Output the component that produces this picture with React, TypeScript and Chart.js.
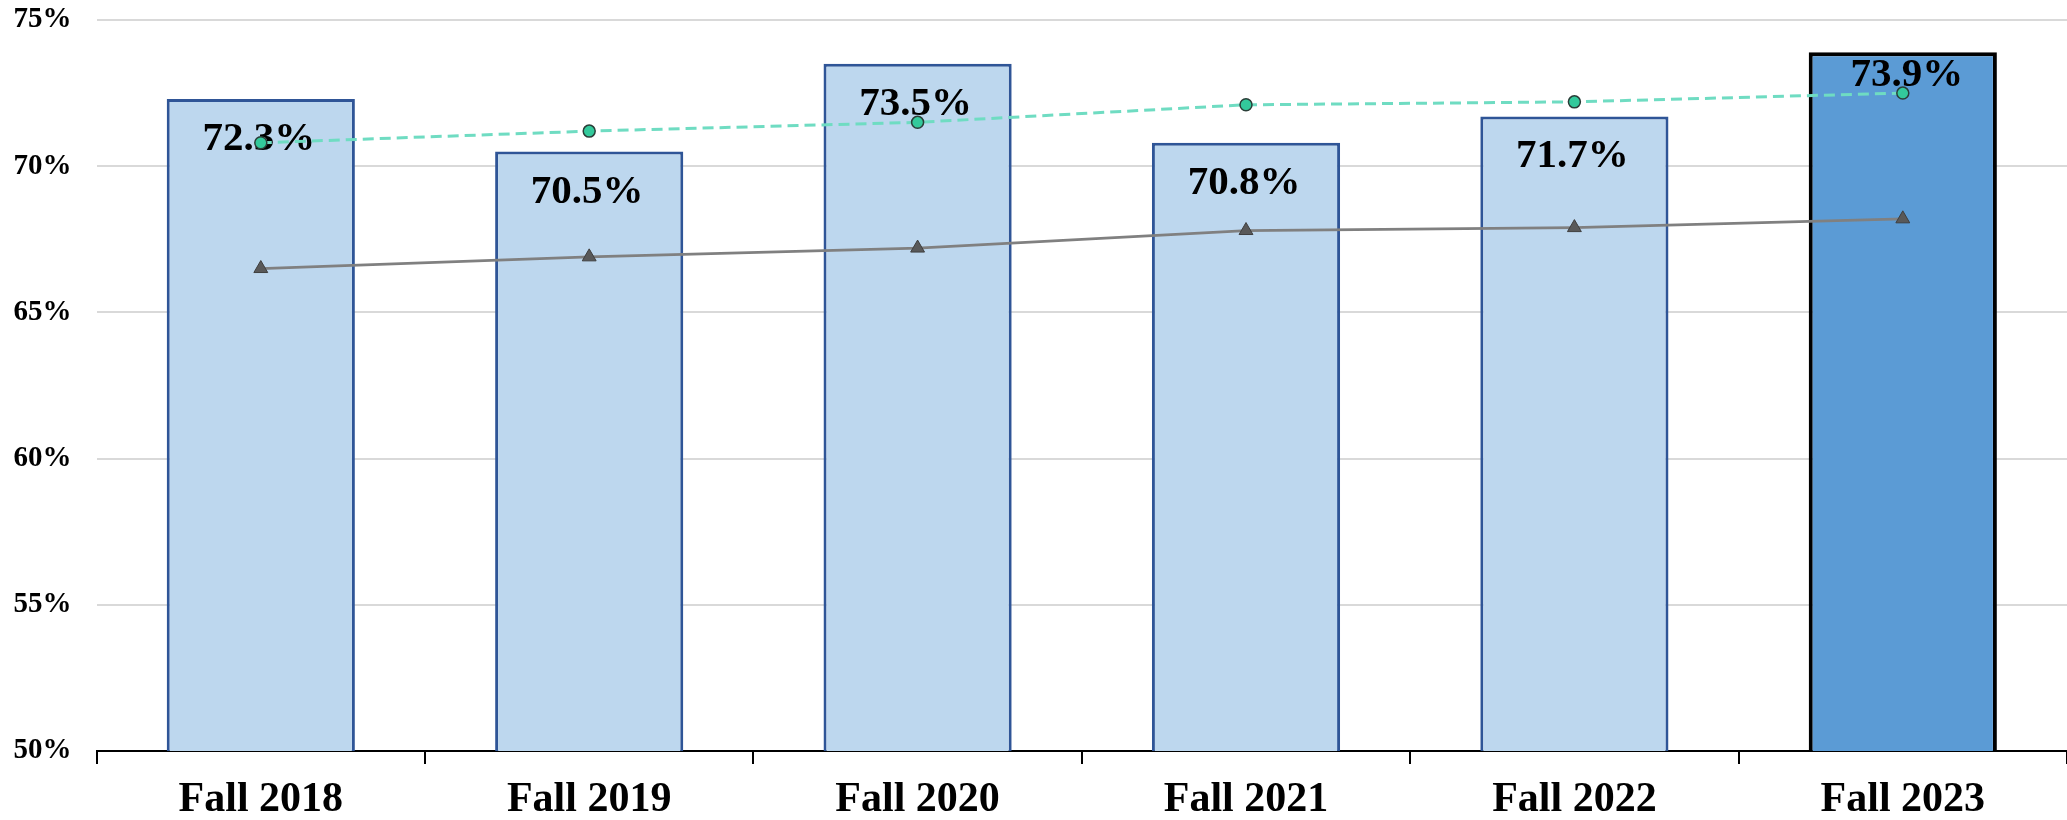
import React, { useEffect, useRef } from "react";
import { Chart, registerables } from "chart.js";

Chart.register(...registerables);

const categories = ["Fall 2018", "Fall 2019", "Fall 2020", "Fall 2021", "Fall 2022", "Fall 2023"];
const barValues = [72.3, 70.5, 73.5, 70.8, 71.7, 73.9];
const greenValues = [70.8, 71.2, 71.5, 72.1, 72.2, 72.5];
const grayValues = [66.5, 66.9, 67.2, 67.8, 67.9, 68.2];
const yMin = 50;
const yMax = 75;
const yStep = 5;

const SERIF = '"Liberation Serif", "Times New Roman", serif';

const barLabelPlugin = {
  id: "barLabels",
  afterDatasetDraw(chart: any, args: any, opts: any) {
    if (args.index !== 0) return;
    const ctx = chart.ctx;
    ctx.save();
    ctx.font = `bold 41px ${SERIF}`;
    ctx.fillStyle = "#000";
    ctx.textAlign = "center";
    ctx.textBaseline = "alphabetic";
    args.meta.data.forEach((el: any, i: number) => {
      const off = opts.offsets && opts.offsets[i] != null ? opts.offsets[i] : opts.offset;
      const dx = opts.dx && opts.dx[i] != null ? opts.dx[i] : -2;
      ctx.fillText(barValues[i].toFixed(1) + "%", el.x + dx, el.y + off);
    });
    ctx.restore();
  },
};

export default function App() {
  const ref = useRef<HTMLCanvasElement | null>(null);

  useEffect(() => {
    if (!ref.current) return;
    const chart = new Chart(ref.current, {
      type: "bar",
      data: {
        labels: categories,
        datasets: [
          {
            type: "bar",
            data: barValues,
            order: 2,
            backgroundColor: barValues.map((_, i) => (i === barValues.length - 1 ? "#5B9BD5" : "#BDD7EE")),
            borderColor: barValues.map((_, i) => (i === barValues.length - 1 ? "#000000" : "#2F5597")),
            borderWidth: barValues.map((_, i) => (i === barValues.length - 1 ? 4 : 3)),
            borderSkipped: false,
            categoryPercentage: 1,
            barPercentage: 0.573,
          },
          {
            type: "line",
            data: greenValues,
            order: 1,
            borderColor: "#6FDCC2",
            borderWidth: 3,
            borderDash: [11, 6],
            pointRadius: 6,
            pointBackgroundColor: "#33C99B",
            pointBorderColor: "#2A3E38",
            pointBorderWidth: 1.5,
            tension: 0,
            fill: false,
          },
          {
            type: "line",
            data: grayValues,
            order: 0,
            borderColor: "#808080",
            borderWidth: 2.7,
            pointStyle: "triangle",
            pointRadius: 8,
            pointBackgroundColor: "#595959",
            pointBorderColor: "#3F3F3F",
            pointBorderWidth: 1,
            tension: 0,
            fill: false,
          },
        ],
      } as any,
      options: {
        responsive: false,
        animation: false,
        layout: { padding: { top: 20, left: 0, right: 0, bottom: 0 } },
        plugins: {
          legend: { display: false },
          tooltip: { enabled: false },
          barLabels: { offset: 51, offsets: [null, null, null, null, null, 34], dx: [-2, -2, -2, -2, -2, 4] },
        } as any,
        scales: {
          x: {
            offset: true,
            grid: {
              display: true,
              offset: true,
              drawOnChartArea: false,
              drawTicks: true,
              tickLength: 13,
              color: "#000",
              lineWidth: 2,
            },
            border: { display: true, color: "#000", width: 2 },
            ticks: {
              color: "#000",
              padding: 11,
              font: { family: SERIF, size: 42, weight: "bold" },
              maxRotation: 0,
            },
            afterFit: (scale: any) => {
              scale.height = 69;
              scale.paddingLeft = 0;
              scale.paddingRight = 0;
            },
          },
          y: {
            min: yMin,
            max: yMax,
            grid: { color: "#D9D9D9", lineWidth: 2, drawTicks: false },
            border: { display: false },
            ticks: {
              stepSize: yStep,
              color: "#000",
              padding: 25,
              font: { family: SERIF, size: 29, weight: "bold" },
              callback: (v: any) => v + "%",
            },
            afterFit: (scale: any) => {
              scale.width = 96.6;
              scale.paddingTop = 0;
              scale.paddingBottom = 0;
            },
          },
        },
      } as any,
      plugins: [barLabelPlugin],
    });
    return () => chart.destroy();
  }, []);

  return (
    <div
      style={{
        position: "fixed",
        left: 0,
        top: 0,
        width: 2067,
        height: 820,
        overflow: "hidden",
        background: "#fff",
      }}
    >
      <canvas ref={ref} width={2076} height={820} style={{ display: "block" }} />
    </div>
  );
}
